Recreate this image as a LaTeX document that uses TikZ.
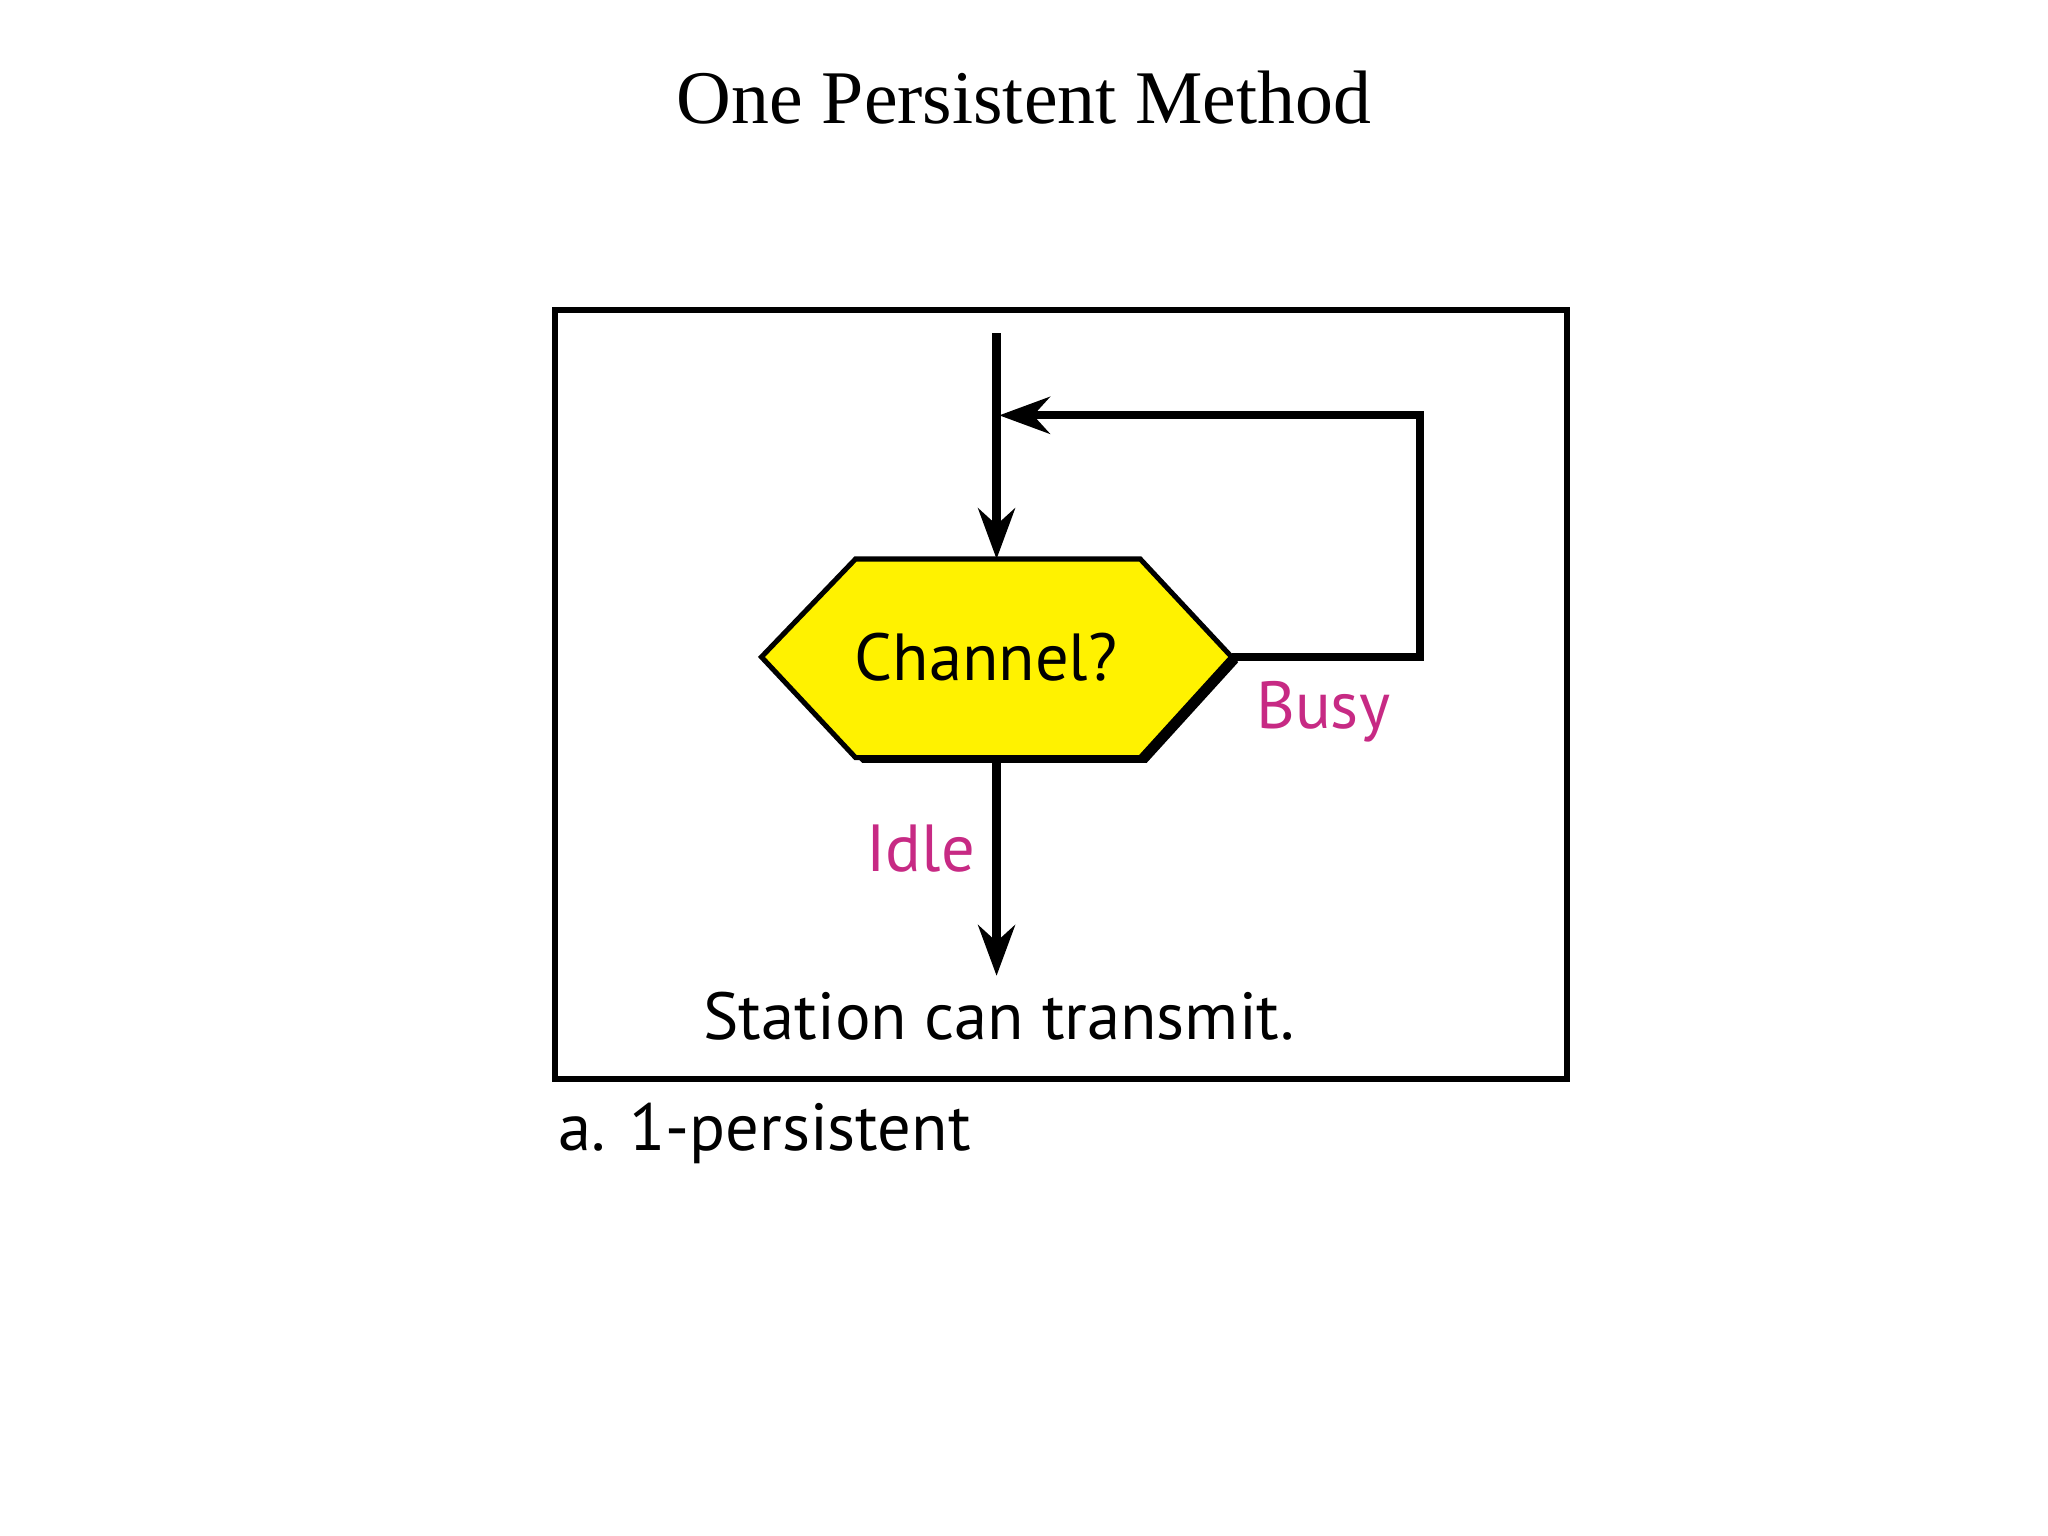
\documentclass[tikz,border=0pt]{standalone}
\usepackage{fontspec}
\setmainfont{Liberation Serif}
\newfontfamily\sansf{PT Sans}
\usetikzlibrary{arrows.meta}
\begin{document}
\begin{tikzpicture}[x=0.01cm,y=-0.01cm,
  conn/.style={line width=1.8pt,-{Stealth[length=11pt,width=8pt]}},
  lbl/.style={font=\sansf\fontsize{14.5}{18}\selectfont},
  mag/.style={lbl,text=magenta!80!black}]
\useasboundingbox (0,0) rectangle (1568,1176);
\node (title) at (784,75) {\fontsize{16.5}{20}\selectfont One Persistent Method};
\draw[line width=1.3pt] (425,237) rectangle (1200,826);
\coordinate (top) at (763,255);
\fill[black] (588,507)--(660,432)--(878,432)--(948,507)--(878,584)--(660,584)--cycle;
\draw[fill=yellow,line width=1.1pt] (583,503)--(655,428)--(873,428)--(943,503)--(873,580)--(655,580)--cycle;
\coordinate (hr) at (943,503);
\coordinate (ht) at (763,428);
\coordinate (hb) at (763,580);
\coordinate (join) at (765,318);
\node[lbl] (ch) at (755,503) {Channel?};
\draw[conn] (top) -- (ht);
\draw[conn] (hr) -- (1087,503) -- (1087,318) -- (join);
\node[mag] (busy) at (1013,545) {Busy};
\node[mag] (idle) at (705,650) {Idle};
\node[lbl] (st) at (765,778) {Station can transmit.};
\draw[conn] (hb) -- (st.north -| hb);
\node[lbl,anchor=west] (cap) at (415,868) {a. 1-persistent};
\end{tikzpicture}
\end{document}
